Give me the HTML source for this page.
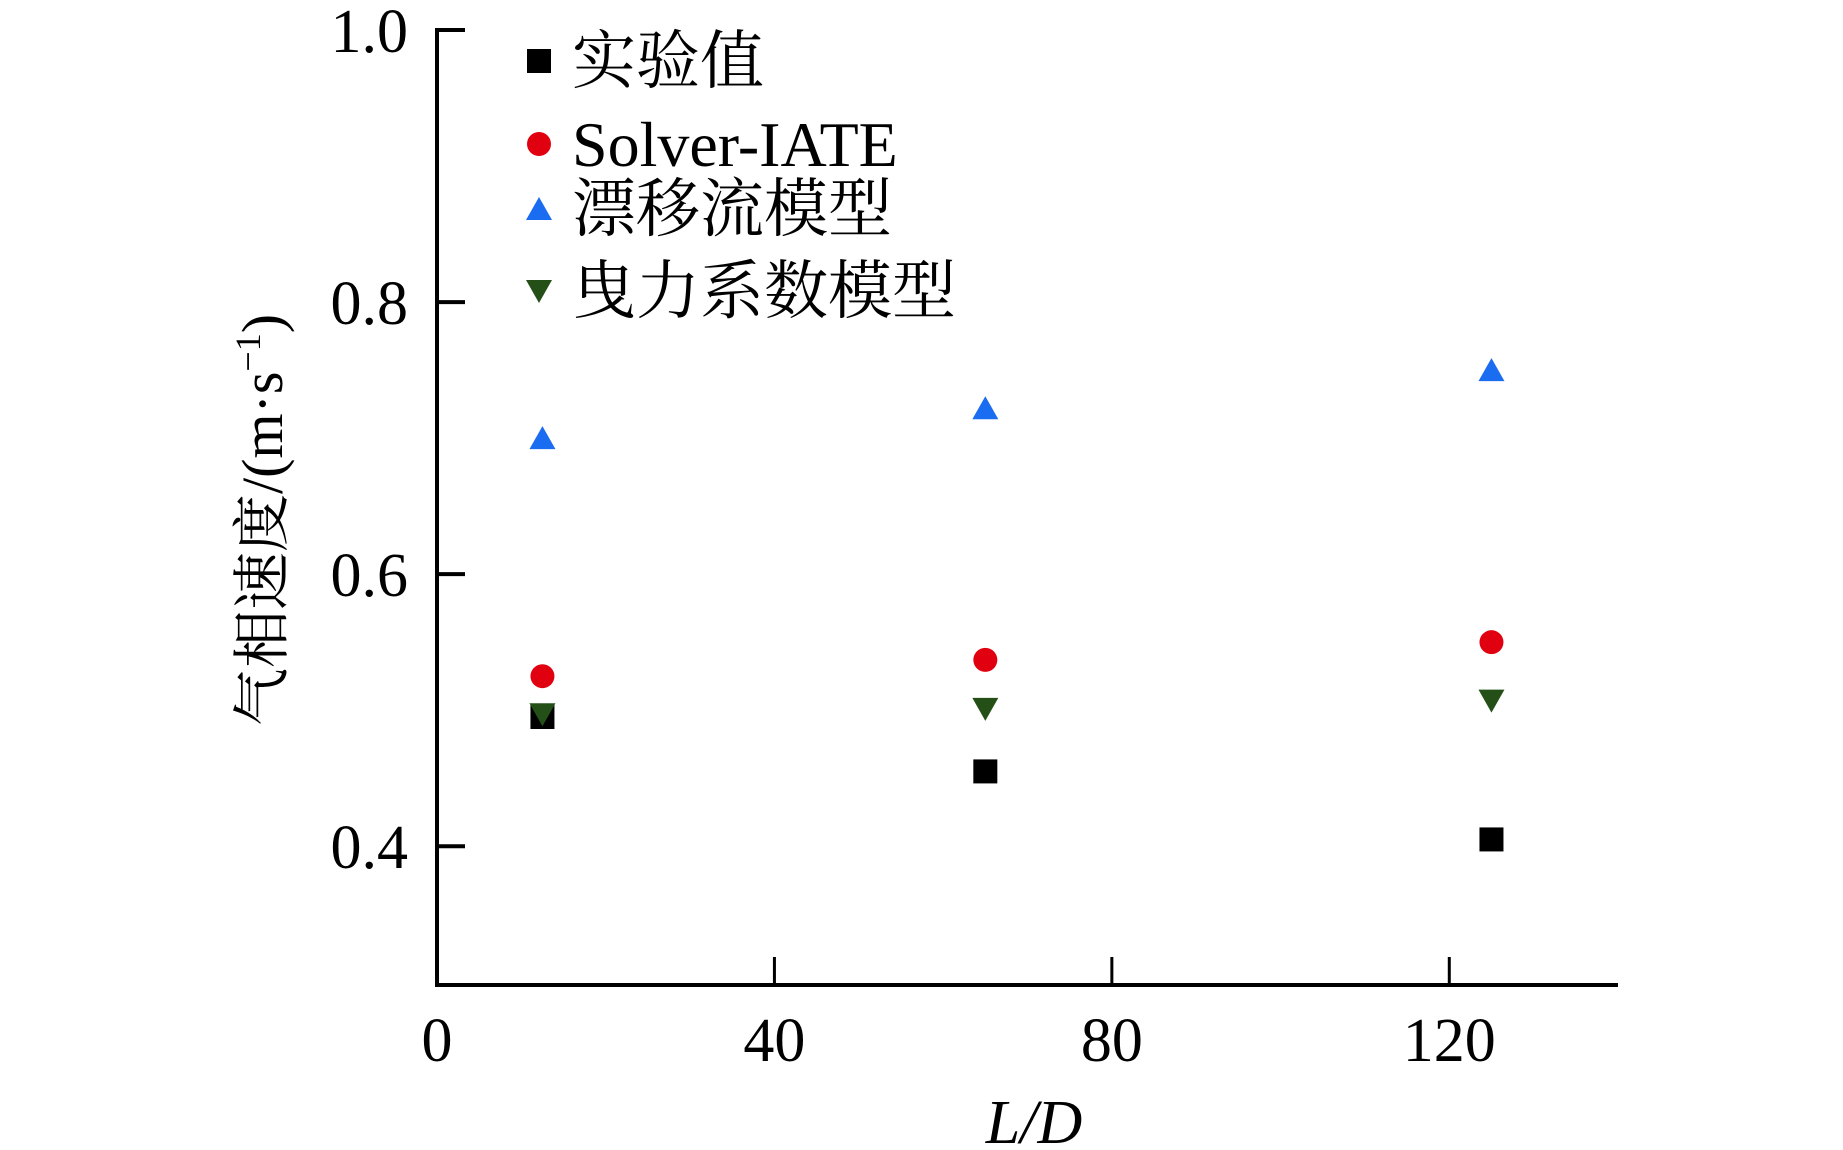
<!DOCTYPE html>
<html><head><meta charset="utf-8"><style>html,body{margin:0;padding:0;background:#fff}svg{display:block}</style></head>
<body>
<svg id="chart" width="1843" height="1150" viewBox="0 0 1843 1150" xmlns="http://www.w3.org/2000/svg" font-family="'Liberation Serif','Noto Serif CJK SC',serif">
<g id="axes"></g>
<g id="marks"></g>
<g id="legend"></g>
</svg>
<script>
const xCats = [12.5, 65, 125];
const expVals = [0.495, 0.455, 0.405];
const solverVals = [0.525, 0.537, 0.55];
const driftVals = [0.70, 0.722, 0.75];
const dragVals = [0.497, 0.501, 0.507];
const xTicks = [0, 40, 80, 120];
const yTicks = [0.4, 0.6, 0.8, 1.0];
const yTickLabels = ["0.4", "0.6", "0.8", "1.0"];

const NS = "http://www.w3.org/2000/svg";
const X0 = 437, X1 = 1618, xMin = 0, xMax = 140;
const Y0 = 985, Y1 = 30, yMin = 0.298, yMax = 1.0;
function sx(v){ return X0 + (v - xMin) / (xMax - xMin) * (X1 - X0); }
function sy(v){ return Y0 - (v - yMin) / (yMax - yMin) * (Y0 - Y1); }
function mk(tag, attrs, parent){ const e = document.createElementNS(NS, tag); for (const k in attrs) e.setAttribute(k, attrs[k]); parent.appendChild(e); return e; }

const axes = document.getElementById('axes');
let l = mk('line', {x1:X0, y1:Y1-2, x2:X0, y2:Y0+2, stroke:'#000', 'stroke-width':4}, axes);


l = mk('line', {x1:X0-2, y1:Y0, x2:X1, y2:Y0, stroke:'#000', 'stroke-width':4}, axes);


yTicks.forEach((v, i) => {
  const y = sy(v);
  const t = mk('line', {x1:X0, y1:y, x2:X0+28, y2:y, stroke:'#000', 'stroke-width':4}, axes);
  
  
  const tx = mk('text', {x:408, y:y+22, 'text-anchor':'end', 'font-size':62}, axes);
  tx.textContent = yTickLabels[i];
  
  
});
xTicks.forEach(v => {
  const x = sx(v);
  if (v !== 0) {
    const t = mk('line', {x1:x, y1:Y0, x2:x, y2:Y0-28, stroke:'#000', 'stroke-width':3}, axes);
    
    
  }
  const tx = mk('text', {x:x, y:1061, 'text-anchor':'middle', 'font-size':62}, axes);
  tx.textContent = String(v);
  
  
});
const xl = mk('text', {x:1034, y:1143, 'text-anchor':'middle', 'font-size':62, 'font-style':'italic'}, axes);
xl.textContent = 'L/D';


const yl = mk('text', {x:0, y:0, 'text-anchor':'middle', 'font-size':58, transform:'translate(282,520) rotate(-90)'}, axes);
yl.innerHTML = '气相速度/(m·s<tspan dy="-22" font-size="36">−1</tspan><tspan dy="22">)</tspan>';



function marker(type, x, y, parent){
  let e;
  if (type === 'square') e = mk('rect', {x:x-12, y:y-12, width:24, height:24, fill:'#000'}, parent);
  else if (type === 'circle') e = mk('circle', {cx:x, cy:y, r:12, fill:'#e00010'}, parent);
  else if (type === 'up') e = mk('polygon', {points:`${x-13},${y+11} ${x+13},${y+11} ${x},${y-12}`, fill:'#1a6cf0'}, parent);
  else e = mk('polygon', {points:`${x-13},${y-11} ${x+13},${y-11} ${x},${y+12}`, fill:'#245018'}, parent);
  return e;
}
const marks = document.getElementById('marks');
const series = [
  {vals: expVals, type: 'square', name: 'exp'},
  {vals: solverVals, type: 'circle', name: 'solver-iate'},
  {vals: driftVals, type: 'up', name: 'drift-flux'},
  {vals: dragVals, type: 'down', name: 'drag-coeff'}
];
series.forEach(s => {
  s.vals.forEach((v, i) => {
    const e = marker(s.type, sx(xCats[i]), sy(v), marks);
    
    
  });
});

const legend = document.getElementById('legend');
const legendLabels = ['实验值', 'Solver-IATE', '漂移流模型', '曳力系数模型'];
const legendRows = [61, 144, 209, 291];
series.forEach((s, i) => {
  const m = marker(s.type, 539, legendRows[i], legend);
  
  
  const t = mk('text', {x:572, y:legendRows[i]+22, 'font-size':64, 'font-family':"'Liberation Serif','Noto Serif CJK SC',serif"}, legend);
  t.textContent = legendLabels[i];
  
  
});
</script>
</body></html>
